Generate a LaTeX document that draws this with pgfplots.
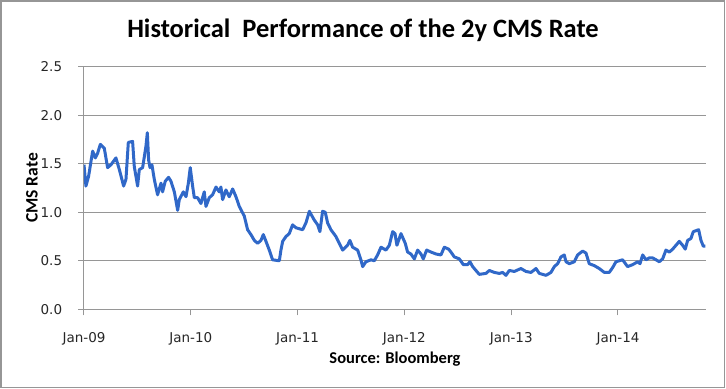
\documentclass[border=0pt]{standalone}
\usepackage{fontspec}
\setmainfont{Carlito}
\newfontfamily\tickfont{DejaVu Sans}
\usepackage{pgfplots}
\pgfplotsset{compat=1.18}
\definecolor{cmsblue}{RGB}{48,104,200}
\definecolor{gridgray}{RGB}{150,150,150}
\begin{document}
\begin{tikzpicture}
\path[use as bounding box] (-84bp,-79.7bp) rectangle (642bp,309.3bp);
\begin{axis}[
  name=ax, at={(0,0)}, anchor=south west,
  scale only axis, width=622bp, height=242.6bp,
  xmin=2009, xmax=2014.824, ymin=0, ymax=2.5,
  xtick={2009,2010,2011,2012,2013,2014},
  xticklabels={Jan-09,Jan-10,Jan-11,Jan-12,Jan-13,Jan-14},
  ytick={0,0.5,1,1.5,2,2.5},
  yticklabel={\pgfmathprintnumber[fixed,fixed zerofill,precision=1]{\tick}},
  axis lines*=left,
  axis line style={gridgray, line width=1bp},
  ymajorgrids, grid style={gridgray, line width=1bp},
  tick align=outside, major tick length=6bp,
  tick style={gridgray, line width=1bp},
  /pgf/number format/assume math mode=true,
  ticklabel style={font=\tickfont\fontsize{13.5bp}{15bp}\selectfont, text=black!85},
  xticklabel style={anchor=base, yshift=-27.4bp},
  yticklabel style={anchor=east, inner sep=0pt, xshift=-15.7bp},
]
\addplot[cmsblue, line width=3bp, line join=round] coordinates {
(2009.000,1.49) (2009.018,1.27) (2009.043,1.37) (2009.081,1.63) (2009.106,1.56)
(2009.128,1.61) (2009.153,1.70) (2009.190,1.66) (2009.221,1.46) (2009.253,1.49)
(2009.299,1.56) (2009.331,1.44) (2009.371,1.27) (2009.393,1.34) (2009.415,1.72)
(2009.455,1.73) (2009.471,1.47) (2009.502,1.27) (2009.518,1.44) (2009.549,1.46)
(2009.580,1.68) (2009.593,1.82) (2009.605,1.54) (2009.618,1.46) (2009.636,1.49)
(2009.658,1.34) (2009.689,1.18) (2009.721,1.30) (2009.736,1.21) (2009.761,1.32)
(2009.792,1.36) (2009.814,1.32) (2009.846,1.21) (2009.877,1.02) (2009.892,1.13)
(2009.930,1.21) (2009.955,1.16) (2009.977,1.30) (2009.995,1.46) (2010.017,1.27)
(2010.033,1.15) (2010.064,1.15) (2010.095,1.09) (2010.126,1.21) (2010.142,1.06)
(2010.173,1.15) (2010.204,1.18) (2010.236,1.26) (2010.267,1.21) (2010.282,1.26)
(2010.298,1.13) (2010.329,1.23) (2010.360,1.16) (2010.392,1.24) (2010.423,1.16)
(2010.454,1.06) (2010.501,0.96) (2010.532,0.82) (2010.563,0.77) (2010.595,0.71)
(2010.626,0.68) (2010.657,0.71) (2010.679,0.77) (2010.704,0.70) (2010.735,0.61)
(2010.766,0.51) (2010.829,0.50) (2010.844,0.61) (2010.860,0.70) (2010.891,0.75)
(2010.922,0.78) (2010.953,0.87) (2010.985,0.84) (2011.016,0.83) (2011.047,0.82)
(2011.078,0.89) (2011.110,1.01) (2011.156,0.92) (2011.188,0.87) (2011.209,0.80)
(2011.234,1.01) (2011.259,1.00) (2011.281,0.89) (2011.312,0.82) (2011.359,0.75)
(2011.422,0.61) (2011.468,0.66) (2011.490,0.71) (2011.515,0.64) (2011.562,0.61)
(2011.593,0.51) (2011.609,0.44) (2011.640,0.49) (2011.687,0.51) (2011.718,0.50)
(2011.749,0.56) (2011.781,0.64) (2011.827,0.61) (2011.859,0.66) (2011.890,0.80)
(2011.912,0.78) (2011.930,0.66) (2011.968,0.78) (2012.008,0.68) (2012.030,0.59)
(2012.061,0.57) (2012.093,0.52) (2012.124,0.61) (2012.155,0.57) (2012.177,0.52)
(2012.208,0.61) (2012.249,0.59) (2012.296,0.57) (2012.342,0.56) (2012.374,0.64)
(2012.414,0.62) (2012.436,0.59) (2012.467,0.54) (2012.514,0.52) (2012.552,0.46)
(2012.592,0.46) (2012.614,0.49) (2012.639,0.44) (2012.670,0.40) (2012.701,0.36)
(2012.764,0.37) (2012.795,0.40) (2012.842,0.38) (2012.889,0.37) (2012.920,0.38)
(2012.951,0.35) (2012.982,0.40) (2013.029,0.39) (2013.091,0.42) (2013.138,0.39)
(2013.185,0.38) (2013.232,0.42) (2013.263,0.37) (2013.326,0.35) (2013.372,0.38)
(2013.404,0.44) (2013.435,0.47) (2013.466,0.54) (2013.497,0.56) (2013.513,0.49)
(2013.544,0.47) (2013.591,0.49) (2013.622,0.56) (2013.669,0.60) (2013.700,0.58)
(2013.731,0.47) (2013.778,0.45) (2013.825,0.42) (2013.872,0.38) (2013.918,0.38)
(2013.950,0.43) (2013.981,0.49) (2014.043,0.51) (2014.090,0.44) (2014.137,0.46)
(2014.184,0.49) (2014.206,0.47) (2014.231,0.56) (2014.262,0.51) (2014.293,0.53)
(2014.324,0.53) (2014.356,0.51) (2014.387,0.49) (2014.418,0.52) (2014.449,0.61)
(2014.481,0.59) (2014.512,0.62) (2014.543,0.66) (2014.574,0.70) (2014.605,0.66)
(2014.630,0.62) (2014.652,0.71) (2014.683,0.73) (2014.705,0.80) (2014.755,0.82)
(2014.777,0.71) (2014.799,0.65) (2014.817,0.65)
};
\end{axis}
\node[anchor=base, font=\bfseries\fontsize{26.5bp}{30bp}\selectfont] at (279bp,271.3bp) {Historical\ \ Performance of the 2y CMS Rate};
\node[rotate=90, font=\bfseries\fontsize{17.5bp}{20bp}\selectfont] at (-52bp,121.3bp) {CMS Rate};
\node[anchor=base, font=\bfseries\fontsize{16.5bp}{19bp}\selectfont] at (311bp,-54bp) {Source: Bloomberg};
\draw[gridgray, line width=1.2bp] (-83bp,-78.4bp) rectangle (640.3bp,308.3bp);
\end{tikzpicture}
\end{document}
